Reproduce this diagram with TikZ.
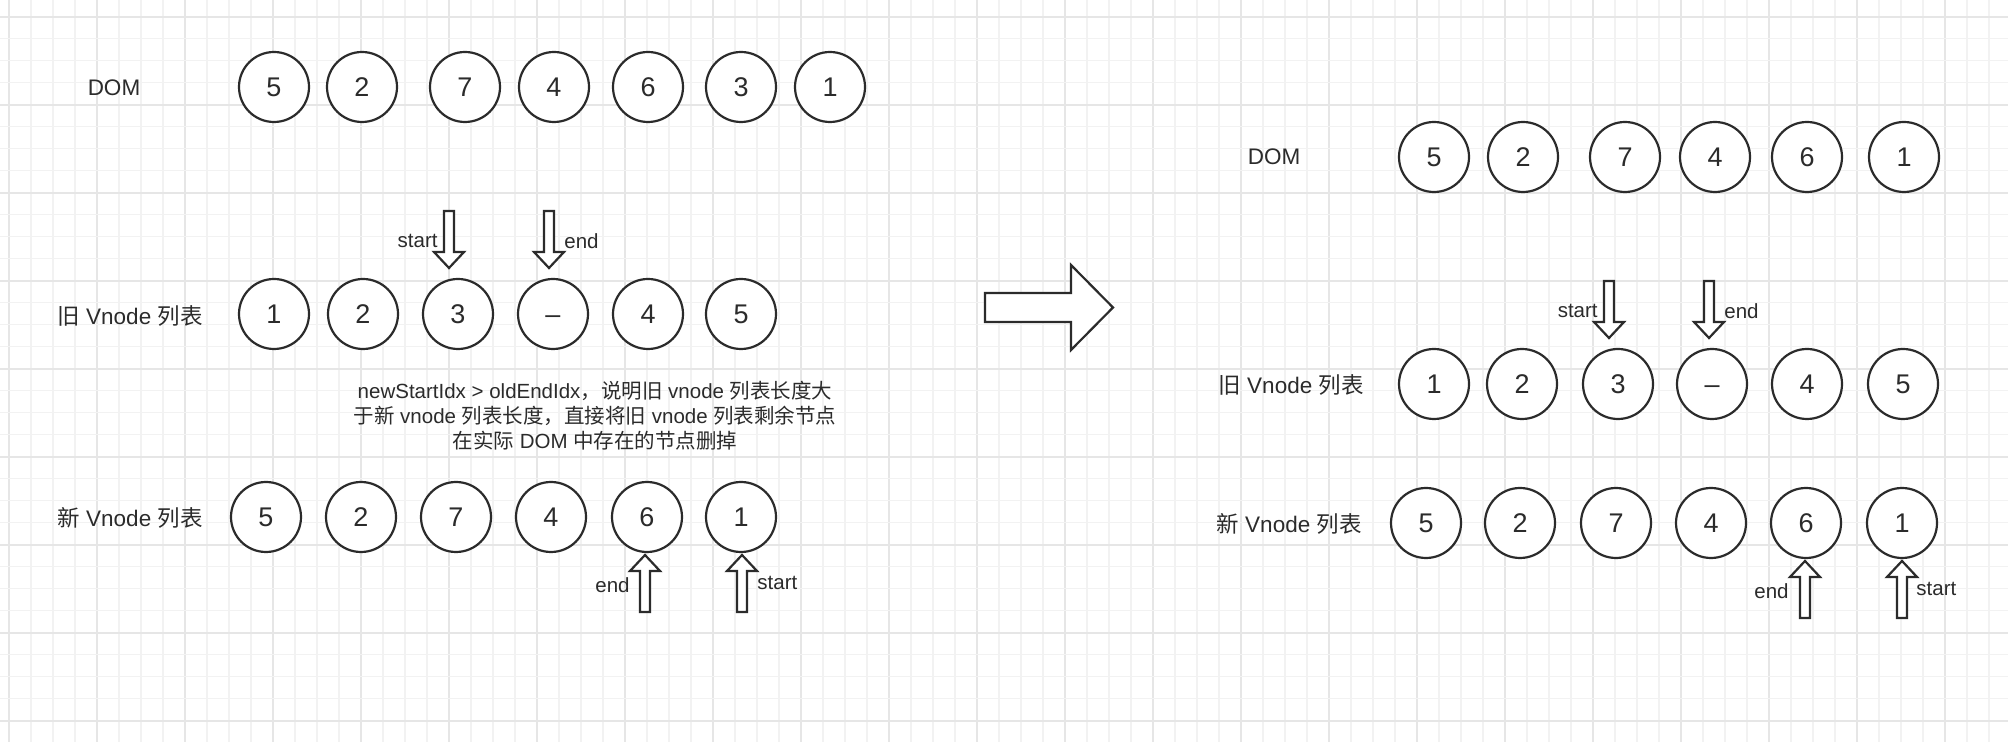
\documentclass[tikz,border=0pt]{standalone}
\usepackage{fontspec}
\setmainfont{Liberation Sans}
\newfontfamily\cjk{Noto Sans CJK SC}
\definecolor{ink}{HTML}{2B2B2B}
\definecolor{gminor}{HTML}{F2F2F2}
\definecolor{gmajor}{HTML}{E6E6E6}
\tikzset{
  gridminor/.style={draw=gminor, line width=0.7pt},
  gridmajor/.style={draw=gmajor, line width=0.9pt},
  circ/.style={circle, draw=ink, fill=white, line width=1.1pt, minimum size=35pt, inner sep=0pt, text=ink, text height=9.7pt, text depth=0pt, font=\fontsize{13.5pt}{16pt}\selectfont},
  lbl/.style={inner sep=0pt, text=ink, font=\fontsize{11.25pt}{13pt}\selectfont},
  note/.style={inner sep=0pt, text=ink, align=center, font=\fontsize{10.25pt}{12.5pt}\selectfont},
  ptr/.style={inner sep=0pt, text=ink, font=\fontsize{10.25pt}{12pt}\selectfont},
  blockarr/.style={draw=ink, fill=white, line width=1.1pt, line join=miter},
  downarr/.pic={\draw[blockarr] (0,0) -- (-15,-16) -- (-5,-16) -- (-5,-57) -- (5,-57) -- (5,-16) -- (15,-16) -- cycle;},
  uparr/.pic={\draw[blockarr] (0,0) -- (-15,16) -- (-5,16) -- (-5,57) -- (5,57) -- (5,16) -- (15,16) -- cycle;}
}
\begin{document}
\begin{tikzpicture}[x=0.5pt, y=-0.5pt]
\useasboundingbox (0,0) rectangle (2008,742);
\fill[white] (0,0) rectangle (2008,742);
% grid
\foreach \k in {0,...,90} {
  \pgfmathtruncatemacro{\m}{mod(\k,4)}
  \ifnum\m=0 \draw[gridmajor] ({9+22*\k},0) -- ({9+22*\k},742);
  \else \draw[gridminor] ({9+22*\k},0) -- ({9+22*\k},742); \fi
}
\foreach \k in {0,...,33} {
  \pgfmathtruncatemacro{\m}{mod(\k,4)}
  \ifnum\m=0 \draw[gridmajor] (0,{16.7+22*\k}) -- (2008,{16.7+22*\k});
  \else \draw[gridminor] (0,{16.7+22*\k}) -- (2008,{16.7+22*\k}); \fi
}

% ---------------- left panel ----------------
\node[lbl] (ldom) at (114,88) {DOM};
\foreach \x/\t [count=\i] in {274/5, 362/2, 465/7, 554/4, 648/6, 741/3, 830/1}
  \node[circ] (ld\i) at (\x,87) {\t};

\node[lbl] (lold) at (130,316) {{\cjk 旧} Vnode {\cjk 列表}};
\foreach \x/\t [count=\i] in {274/1, 363/2, 458/3, 553/\textendash, 648/4, 741/5}
  \node[circ] (lo\i) at (\x,314) {\t};

\pic at (449,268) {downarr};
\pic at (549,268) {downarr};
\node[ptr, anchor=east] (lstart) at (438,241) {start};
\node[ptr, anchor=west] (lend) at (564,241) {end};

\node[note] (lnote) at (595,416) {newStartIdx \textgreater{} oldEndIdx{\cjk ，说明旧} vnode {\cjk 列表长度大}\\{\cjk 于新} vnode {\cjk 列表长度，直接将旧} vnode {\cjk 列表剩余节点}\\{\cjk 在实际} DOM {\cjk 中存在的节点删掉}};

\node[lbl] (lnew) at (130,518) {{\cjk 新} Vnode {\cjk 列表}};
\foreach \x/\t [count=\i] in {266/5, 361/2, 456/7, 551/4, 647/6, 741/1}
  \node[circ] (ln\i) at (\x,517) {\t};

\pic at (645,555) {uparr};
\pic at (742,555) {uparr};
\node[ptr, anchor=east] (lend2) at (630,585) {end};
\node[ptr, anchor=west] (lstart2) at (757,583) {start};

% ---------------- big arrow ----------------
\draw[blockarr] (985,293) -- (1071,293) -- (1071,265) -- (1113,307.5) -- (1071,350) -- (1071,322) -- (985,322) -- cycle;

% ---------------- right panel ----------------
\node[lbl] (rdom) at (1274,157) {DOM};
\foreach \x/\t [count=\i] in {1434/5, 1523/2, 1625/7, 1715/4, 1807/6, 1904/1}
  \node[circ] (rd\i) at (\x,157) {\t};

\node[lbl] (rold) at (1291,385) {{\cjk 旧} Vnode {\cjk 列表}};
\foreach \x/\t [count=\i] in {1434/1, 1522/2, 1618/3, 1712/\textendash, 1807/4, 1903/5}
  \node[circ] (ro\i) at (\x,384) {\t};

\pic at (1609,338) {downarr};
\pic at (1709,338) {downarr};
\node[ptr, anchor=east] (rstart) at (1598,311) {start};
\node[ptr, anchor=west] (rend) at (1724,311) {end};

\node[lbl] (rnew) at (1289,524) {{\cjk 新} Vnode {\cjk 列表}};
\foreach \x/\t [count=\i] in {1426/5, 1520/2, 1616/7, 1711/4, 1806/6, 1902/1}
  \node[circ] (rn\i) at (\x,523) {\t};

\pic at (1805,561) {uparr};
\pic at (1902,561) {uparr};
\node[ptr, anchor=east] (rend2) at (1789,591) {end};
\node[ptr, anchor=west] (rstart2) at (1916,589) {start};
\end{tikzpicture}
\end{document}
